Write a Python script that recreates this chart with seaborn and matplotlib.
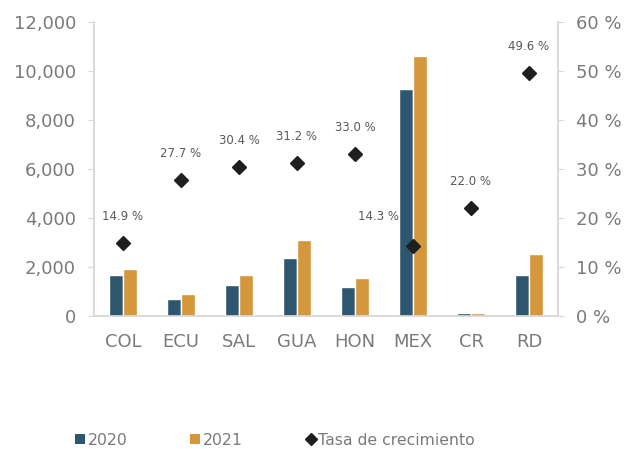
import matplotlib
matplotlib.use("Agg")
import matplotlib.pyplot as plt
import matplotlib.ticker as mticker
from matplotlib.lines import Line2D
from matplotlib.patches import Patch
import numpy as np
import pandas as pd
import seaborn as sns

countries = ["COL", "ECU", "SAL", "GUA", "HON", "MEX", "CR", "RD"]
values_2020 = [1690, 690, 1270, 2360, 1170, 9270, 110, 1680]
values_2021 = [1940, 890, 1680, 3110, 1560, 10610, 130, 2530]
growth = [14.9, 27.7, 30.4, 31.2, 33.0, 14.3, 22.0, 49.6]
growth_labels = ["14.9 %", "27.7 %", "30.4 %", "31.2 %", "33.0 %", "14.3 %", "22.0 %", "49.6 %"]

c2020 = "#2E566E"
c2021 = "#D4973B"
grey_text = "#7a7a7a"
spine_col = "#d9d9d9"

sns.set_style("white")
plt.rcParams["font.family"] = ["DejaVu Sans"]

df = pd.DataFrame({
    "country": countries * 2,
    "year": ["2020"] * len(countries) + ["2021"] * len(countries),
    "value": values_2020 + values_2021,
})

fig = plt.figure(figsize=(6.25, 4.49), dpi=100)
ax = fig.add_axes([0.1504, 0.296, 0.7424, 0.655])

sns.barplot(
    data=df, x="country", y="value", hue="year",
    hue_order=["2020", "2021"], palette=[c2020, c2021],
    width=0.48, gap=0, saturation=1, ax=ax, legend=False, zorder=3,
)
ax.set_xlim(-0.5, len(countries) - 0.5)
ax.set_ylim(0, 12000)
ax.set_yticks(range(0, 12001, 2000))
ax.yaxis.set_major_formatter(mticker.FuncFormatter(lambda v, p: f"{int(v):,}"))
ax.set_xlabel("")
ax.set_ylabel("")

ax2 = ax.twinx()
xpos = np.arange(len(countries))
ax2.plot(xpos, growth, linestyle="none", marker="D", markersize=7,
         color="#1f1f1f")
ax2.set_ylim(0, 60)
ax2.set_yticks(range(0, 61, 10))
ax2.yaxis.set_major_formatter(mticker.FuncFormatter(lambda v, p: f"{int(v)} %"))

for i, (g, lab) in enumerate(zip(growth, growth_labels)):
    if countries[i] == "MEX":
        off = (-25, 21)
    else:
        off = (0, 19)
    ax2.annotate(lab, (xpos[i], g), xytext=off, textcoords="offset points",
                 ha="center", va="center", fontsize=8.5, color="#595959")

for a in (ax, ax2):
    a.spines["top"].set_visible(False)
    for s in ("left", "right", "bottom"):
        a.spines[s].set_color(spine_col)
        a.spines[s].set_linewidth(1.2)
    a.tick_params(axis="y", length=4, color=spine_col, labelsize=13,
                  labelcolor=grey_text, pad=9)
    a.tick_params(axis="x", length=0, labelsize=13, labelcolor=grey_text, pad=12)

handles = [
    Patch(facecolor=c2020, edgecolor="none"),
    Patch(facecolor=c2021, edgecolor="none"),
    Line2D([], [], linestyle="none", marker="D", markersize=6, color="#1f1f1f"),
]
fig.legend(handles, ["2020", "2021", "Tasa de crecimiento"],
           loc="center left", bbox_to_anchor=(0.098, 0.02), ncol=3,
           frameon=False, fontsize=11.3, labelcolor=grey_text,
           handlelength=0.6, handleheight=0.6, handletextpad=0.2,
           columnspacing=4.0)

fig.savefig("out.png", dpi=100)
